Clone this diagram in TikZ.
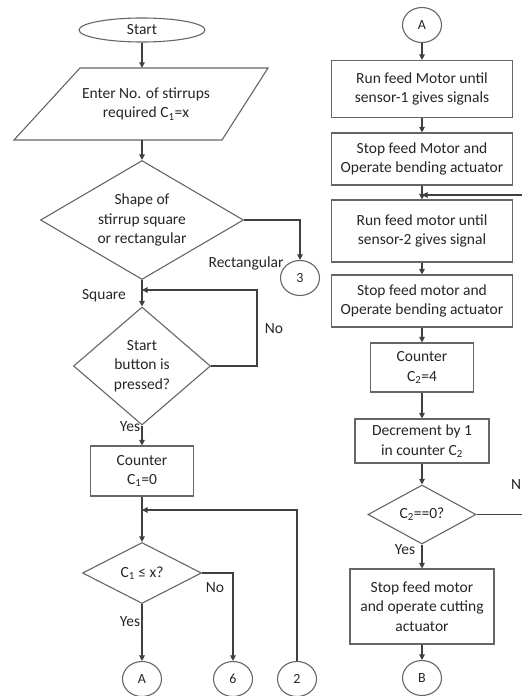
\documentclass[tikz,border=0pt]{standalone}
\usepackage{fontspec}
\setmainfont{Carlito}
\usetikzlibrary{shapes.geometric,arrows.meta}
\begin{document}
\begin{tikzpicture}[x=1pt,y=-1pt,
  every node/.style={text=black!85, font=\fontsize{15.5}{19.5}\selectfont},
  shapeline/.style={draw=black!60, line width=1.1pt},
  proc/.style={rectangle, shapeline, align=center, inner sep=0pt},
  dec/.style={diamond, shapeline, align=center, inner sep=0pt},
  term/.style={ellipse, shapeline, inner sep=0pt},
  conn/.style={ellipse, shapeline, inner sep=0pt, minimum width=39pt, minimum height=35pt, font=\fontsize{14}{16}\selectfont},
  wire/.style={draw=black!75, line width=1.1pt},
  arr/.style={wire, -{Triangle[length=5.5pt,width=5.5pt]}},
  lbl/.style={inner sep=0pt}
]
\useasboundingbox (0,0) rectangle (522,696);
\clip (0,0) rectangle (522,696);
\fill[white] (0,0) rectangle (522,696);

% ---------------- left column ----------------
\node[term, minimum width=126pt, minimum height=24pt] (start) at (142,30) {Start};
\node[align=center, inner sep=0pt, minimum width=120pt, minimum height=72pt] (enter) at (146,104)
  {Enter No. of stirrups\\required C\textsubscript{1}=x};
\draw[shapeline] (80,68) -- (268,68) -- (222,140) -- (14,140) -- cycle;
\node[dec, aspect=1.7, minimum width=203pt, minimum height=119pt] (shp) at (142,220)
  {Shape of\\stirrup square\\or rectangular};
\node[conn] (c3) at (300,278) {3};
\node[dec, aspect=1.16, minimum width=137pt, minimum height=118pt] (btn) at (142,366)
  {Start\\button is\\pressed?};
\node[proc, minimum width=103pt, minimum height=50pt] (cnt1) at (142,471)
  {Counter\\C\textsubscript{1}=0};
\node[dec, aspect=1.95, minimum width=119pt, minimum height=61pt] (cmp) at (142,573)
  {C\textsubscript{1} ≤ x?};
\node[conn] (cA2) at (142,679) {A};
\node[conn] (c6) at (233,679) {6};
\node[conn] (c2) at (297,679) {2};

\coordinate (j1) at (142,290);
\coordinate (l1) at (257,290);
\coordinate (j2) at (142,510);

\draw[arr] (start.south) -- (start.south |- enter.north);
\draw[arr] (start.south |- enter.south) -- (shp.north);
\draw[arr] (shp.east) -| (c3.north);
\draw[arr] (shp.south) -- (btn.north);
\draw[arr] (btn.east) -| (l1) -- (j1);
\draw[arr] (btn.south) -- (cnt1.north);
\draw[arr] (cnt1.south) -- (cmp.north);
\draw[arr] (c2.north) |- (j2);
\draw[arr] (cmp.east) -| (c6.north);
\draw[arr] (cmp.south) -- (cA2.north);

\node[lbl] (lrect) at (246,263) {Rectangular};
\node[lbl] (lsq) at (104,296) {Square};
\node[lbl] (lno1) at (274,329) {No};
\node[lbl] (lyes1) at (130,427) {Yes};
\node[lbl] (lno2) at (215,588) {No};
\node[lbl] (lyes2) at (130,622) {Yes};

% ---------------- right column ----------------
\node[conn] (cA1) at (422,25) {A};
\node[proc, minimum width=181pt, minimum height=57pt] (b1) at (422,89)
  {Run feed Motor until\\sensor-1 gives signals};
\node[proc, minimum width=181pt, minimum height=52pt] (b2) at (422,159)
  {Stop feed Motor and\\Operate bending actuator};
\node[proc, minimum width=181pt, minimum height=62pt] (b3) at (422,231)
  {Run feed motor until\\sensor-2 gives signal};
\node[proc, minimum width=181pt, minimum height=52pt] (b4) at (422,301)
  {Stop feed motor and\\Operate bending actuator};
\node[proc, minimum width=103pt, minimum height=49pt] (b5) at (422,367.5)
  {Counter\\C\textsubscript{2}=4};
\node[proc, minimum width=134pt, minimum height=44pt] (b6) at (422,441)
  {Decrement by 1\\in counter C\textsubscript{2}};
\node[dec, aspect=1.83, minimum width=108pt, minimum height=59pt] (d4) at (422,514.5)
  {C\textsubscript{2}==0?};
\node[proc, minimum width=144pt, minimum height=75pt] (b7) at (422,606.5)
  {Stop feed motor\\and operate cutting\\actuator};
\node[conn] (cB) at (422,678) {B};

\coordinate (j3) at (422,195);
\coordinate (l3) at (535,195);

\draw[arr] (cA1.south) -- (b1.north);
\draw[arr] (b1.south) -- (b2.north);
\draw[arr] (b2.south) -- (b3.north);
\draw[arr] (b3.south) -- (b4.north);
\draw[arr] (b4.south) -- (b5.north);
\draw[arr] (b5.south) -- (b6.north);
\draw[arr] (b6.south) -- (d4.north);
\draw[arr] (d4.south) -- (b7.north);
\draw[arr] (b7.south) -- (cB.north);
\draw[arr] (d4.east) -| (l3) -- (j3);

\node[lbl] (lyes3) at (405,550) {Yes};
\node[lbl, anchor=west] (lno3) at (511,485) {N};
\end{tikzpicture}
\end{document}
